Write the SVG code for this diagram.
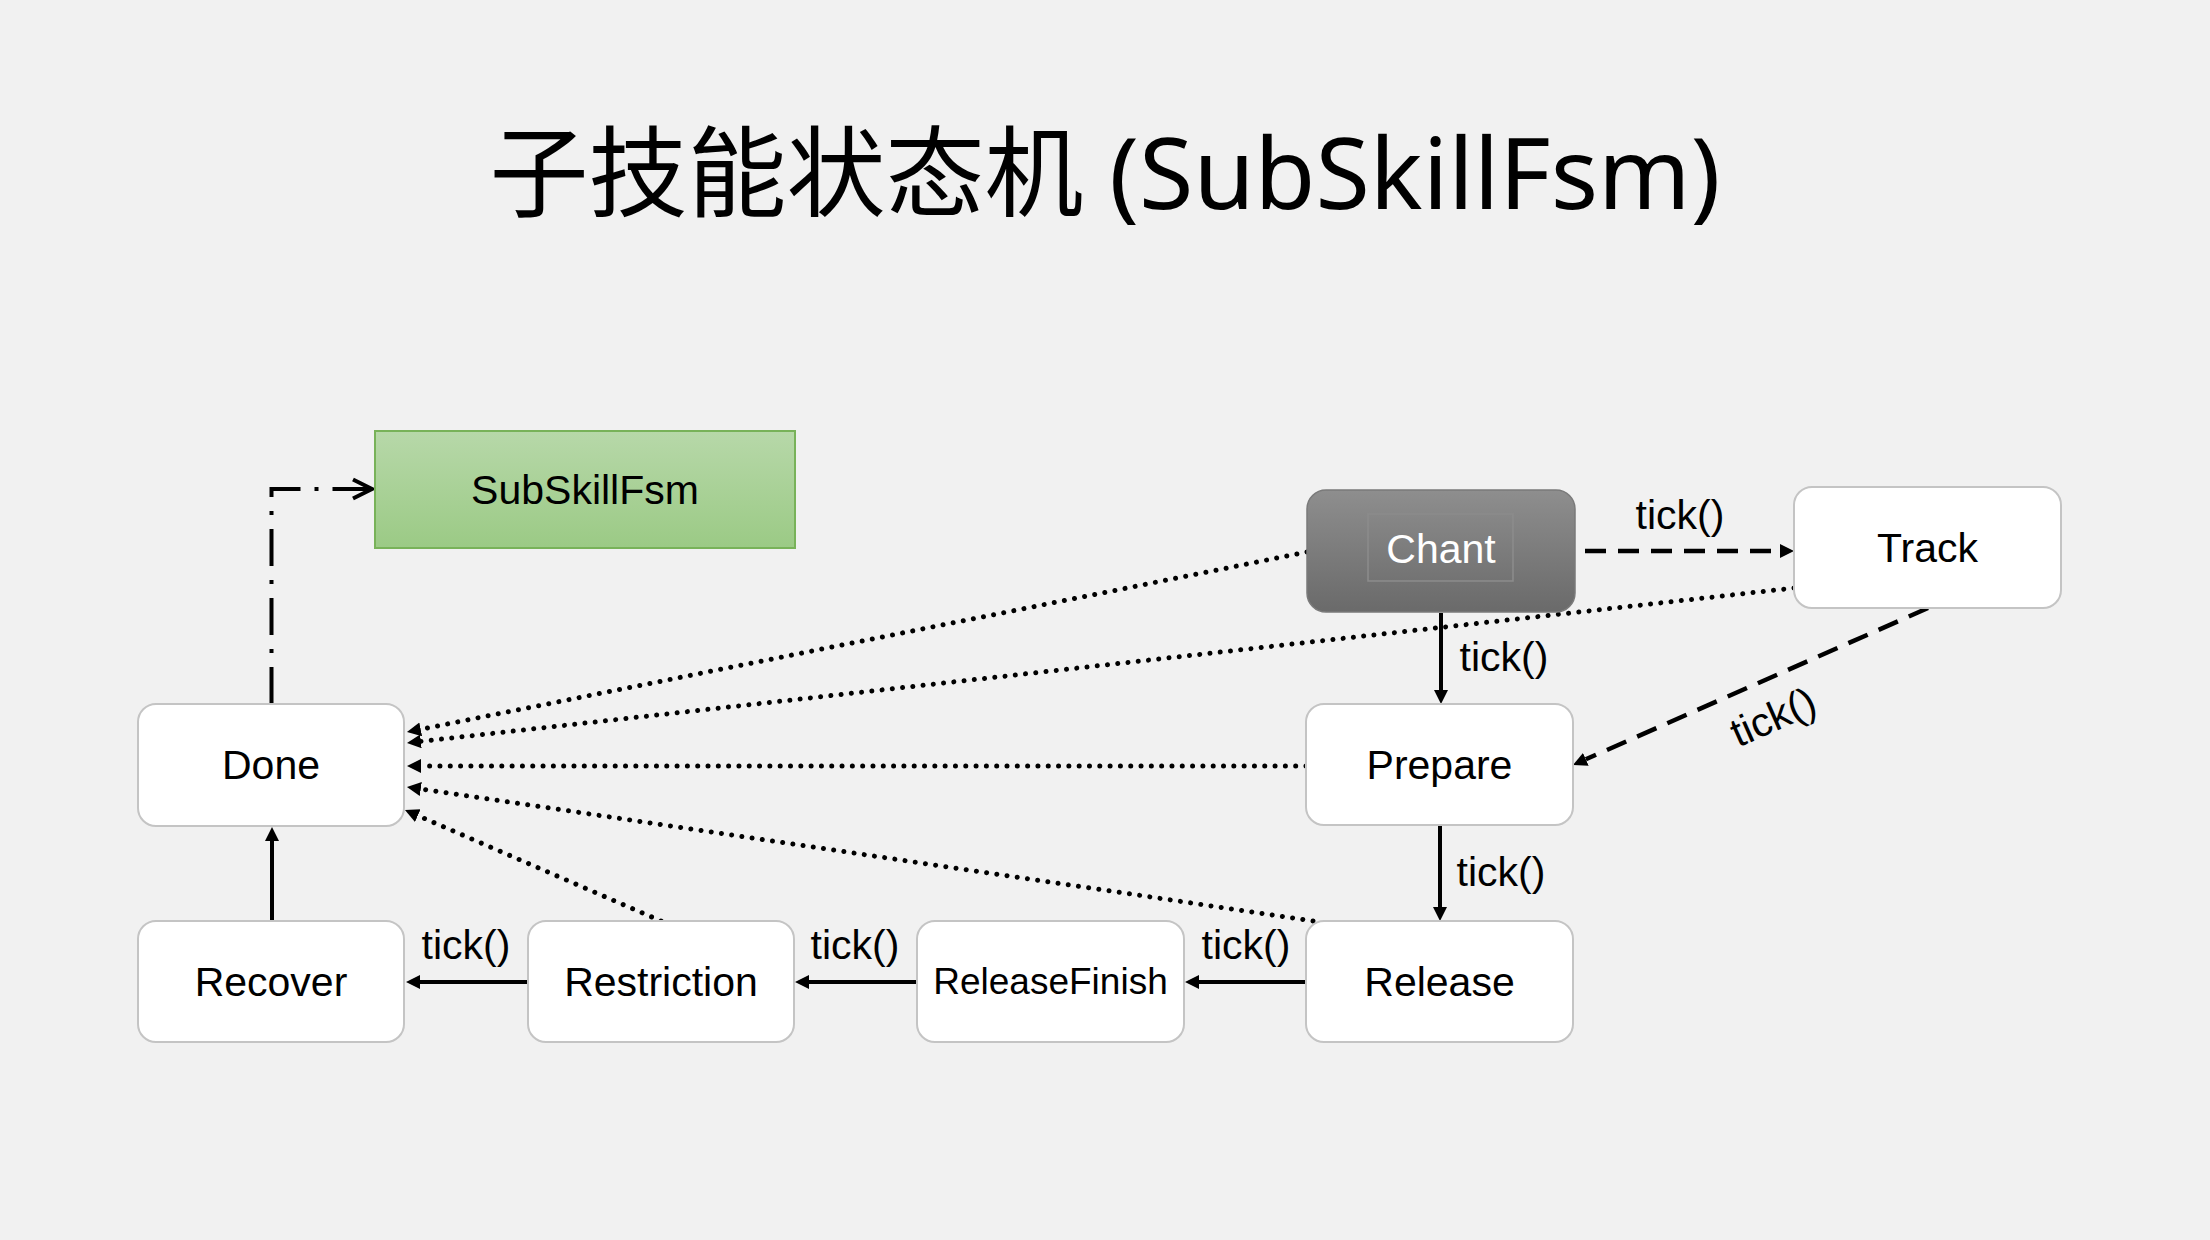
<svg xmlns="http://www.w3.org/2000/svg" width="2210" height="1240" viewBox="0 0 2210 1240">
<style>
.node rect.box{fill:#ffffff;stroke:#c4c4c4;stroke-width:2}
.lbl{font-family:"Liberation Sans",Arial,sans-serif;font-size:41px;fill:#000;text-anchor:middle}
.solid{fill:none;stroke:#000;stroke-width:4}
.dotted{fill:none;stroke:#000;stroke-width:5;stroke-linecap:round;stroke-dasharray:0.01 10.3}
.dashed{fill:none;stroke:#000;stroke-width:4.5;stroke-dasharray:21 12}
.dashdot{fill:none;stroke:#000;stroke-width:4;stroke-dasharray:37 14 4 14}
</style>
<defs>
<marker id="block" markerUnits="userSpaceOnUse" markerWidth="16" markerHeight="16" refX="0" refY="7" orient="auto">
<path d="M0,0 L14,7 L0,14 Z" fill="#000"/>
</marker>
<marker id="open" markerUnits="userSpaceOnUse" markerWidth="28" markerHeight="28" refX="22" refY="13" orient="auto">
<path d="M3,3.5 L22,13 L3,22.5" fill="none" stroke="#000" stroke-width="4"/>
</marker>
<linearGradient id="gGreen" x1="0" y1="0" x2="0" y2="1">
<stop offset="0" stop-color="#b7d8a9"/>
<stop offset="1" stop-color="#9bca85"/>
</linearGradient>
<linearGradient id="gChant" x1="0" y1="0" x2="0" y2="1">
<stop offset="0" stop-color="#8e8e8e"/>
<stop offset="1" stop-color="#6a6a6a"/>
</linearGradient>
<linearGradient id="gChantIn" x1="0" y1="0" x2="0" y2="1">
<stop offset="0" stop-color="#878787"/>
<stop offset="1" stop-color="#737373"/>
</linearGradient>
</defs>
<rect x="0" y="0" width="2210" height="1240" fill="#f1f1f1"/>
<text x="1105" y="209" font-family="'Noto Sans','Noto Sans CJK SC',sans-serif" font-size="99" text-anchor="middle" fill="#000">子技能状态机 (SubSkillFsm)</text>

<g id="connectors">
<path class="dashdot" d="M271.5,704 V489 H372" marker-end="url(#open)"/>
<path class="dotted" d="M1307,552 L420.7,729.3" marker-end="url(#block)"/>
<path class="dotted" d="M1794,588 L420.9,741.4" marker-end="url(#block)"/>
<path class="dotted" d="M1306,766 L421,766" marker-end="url(#block)"/>
<path class="dotted" d="M1313,921 L420.8,789" marker-end="url(#block)"/>
<path class="dotted" d="M661,921 L417.8,815.6" marker-end="url(#block)"/>
<path class="dashed" d="M1585,551 L1780,551" marker-end="url(#block)"/>
<path class="dashed" d="M1928,608 L1585.8,759.3" marker-end="url(#block)"/>
<path class="solid" d="M1441,613 V690" marker-end="url(#block)"/>
<path class="solid" d="M1440,825 V907" marker-end="url(#block)"/>
<path class="solid" d="M1306,982 H1199" marker-end="url(#block)"/>
<path class="solid" d="M917,982 H809" marker-end="url(#block)"/>
<path class="solid" d="M528,982 H420" marker-end="url(#block)"/>
<path class="solid" d="M272,921 V841" marker-end="url(#block)"/>
<text class="lbl" x="1680" y="529">tick()</text>
<text class="lbl" x="1504" y="671">tick()</text>
<text class="lbl" x="1501" y="886">tick()</text>
<text class="lbl" x="1246" y="959">tick()</text>
<text class="lbl" x="855" y="959">tick()</text>
<text class="lbl" x="466" y="959">tick()</text>
<text class="lbl" x="1773" y="731" transform="rotate(-24 1773 717)">tick()</text>
</g>

<g id="SubSkillFsm" class="node">
<rect x="375" y="431" width="420" height="117" fill="url(#gGreen)" stroke="#78b259" stroke-width="2"/>
<text class="lbl" x="585" y="504" fill="#111">SubSkillFsm</text>
</g>
<g id="Chant" class="node">
<rect x="1307" y="490" width="268" height="122" rx="19" fill="url(#gChant)" stroke="#7a7a7a" stroke-width="1.5"/>
<rect x="1368" y="514" width="145" height="67" fill="url(#gChantIn)" stroke="#8c8c8c" stroke-width="1.5"/>
<text class="lbl" x="1441" y="563" style="fill:#ffffff">Chant</text>
</g>
<g id="Track" class="node">
<rect class="box" x="1794" y="487" width="267" height="121" rx="18"/>
<text class="lbl" x="1927.5" y="562">Track</text>
</g>
<g id="Done" class="node">
<rect class="box" x="138" y="704" width="266" height="122" rx="18"/>
<text class="lbl" x="271" y="779">Done</text>
</g>
<g id="Prepare" class="node">
<rect class="box" x="1306" y="704" width="267" height="121" rx="18"/>
<text class="lbl" x="1439.5" y="779">Prepare</text>
</g>
<g id="Recover" class="node">
<rect class="box" x="138" y="921" width="266" height="121" rx="18"/>
<text class="lbl" x="271" y="996">Recover</text>
</g>
<g id="Restriction" class="node">
<rect class="box" x="528" y="921" width="266" height="121" rx="18"/>
<text class="lbl" x="661" y="996">Restriction</text>
</g>
<g id="ReleaseFinish" class="node">
<rect class="box" x="917" y="921" width="267" height="121" rx="18"/>
<text class="lbl" x="1050.5" y="994" style="font-size:37px">ReleaseFinish</text>
</g>
<g id="Release" class="node">
<rect class="box" x="1306" y="921" width="267" height="121" rx="18"/>
<text class="lbl" x="1439.5" y="996">Release</text>
</g>
</svg>
